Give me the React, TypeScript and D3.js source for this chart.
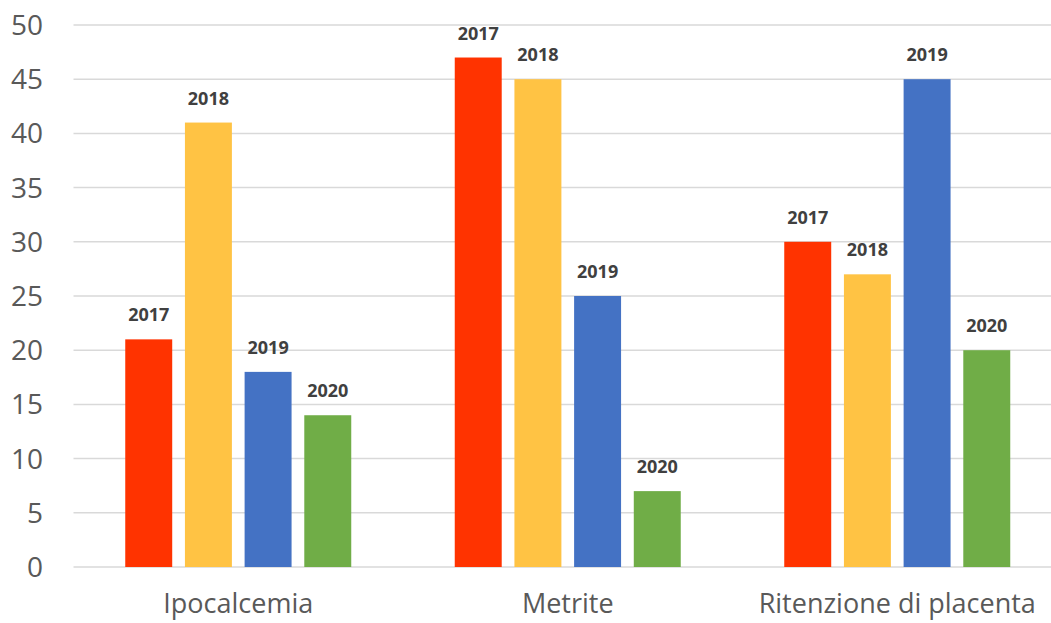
import React, { useEffect, useRef } from 'react';
import * as d3 from 'd3';

const categories = ['Ipocalcemia', 'Metrite', 'Ritenzione di placenta'];
const years = ['2017', '2018', '2019', '2020'];
const v2017 = [21, 47, 30];
const v2018 = [41, 45, 27];
const v2019 = [18, 25, 45];
const v2020 = [14, 7, 20];
const yTicks = [0, 5, 10, 15, 20, 25, 30, 35, 40, 45, 50];
const colors = ['#FF3300', '#FFC344', '#4472C4', '#70AD47'];

export default function App() {
  const ref = useRef<SVGSVGElement>(null);

  useEffect(() => {
    const W = 1051;
    const left = 73.5, right = 1062, top = 25, bottom = 567;
    const series = [v2017, v2018, v2019, v2020];

    const svg = d3.select(ref.current);
    svg.selectAll('*').remove();

    const x0 = d3.scaleBand().domain(categories).range([left, right]).padding(0);
    const groupW = 226;
    const x1 = d3.scaleBand().domain(years).range([0, groupW]).paddingInner(0.213).paddingOuter(0);
    const y = d3.scaleLinear().domain([0, 50]).range([bottom, top]);

    // gridlines
    svg.append('g').selectAll('line').data(yTicks).join('line')
      .attr('x1', left).attr('x2', W)
      .attr('y1', d => y(d)).attr('y2', d => y(d))
      .attr('stroke', '#d9d9d9').attr('stroke-width', 1.5);

    // y tick labels
    svg.append('g').selectAll('text').data(yTicks).join('text')
      .attr('x', 43).attr('y', d => y(d)).attr('dy', '0.36em')
      .attr('text-anchor', 'end')
      .attr('font-family', '"Open Sans", sans-serif').attr('font-size', 28)
      .attr('fill', '#595959')
      .text(d => d);

    const groups = svg.append('g').selectAll('g').data(categories).join('g')
      .attr('transform', c => `translate(${(x0(c) as number) + (x0.bandwidth() - groupW) / 2},0)`);

    groups.each(function (c, ci) {
      const g = d3.select(this);
      const rows = years.map((yr, si) => ({ yr, v: series[si][ci], color: colors[si] }));
      g.selectAll('rect').data(rows).join('rect')
        .attr('x', d => x1(d.yr) as number)
        .attr('y', d => y(d.v))
        .attr('width', x1.bandwidth())
        .attr('height', d => bottom - y(d.v))
        .attr('fill', d => d.color);
      g.selectAll('text').data(rows).join('text')
        .attr('x', d => (x1(d.yr) as number) + x1.bandwidth() / 2)
        .attr('y', d => y(d.v) - 18)
        .attr('text-anchor', 'middle')
        .attr('font-family', '"Open Sans", sans-serif').attr('font-size', 18)
        .attr('font-weight', 'bold')
        .attr('fill', '#404040')
        .text(d => d.yr);
    });

    // category labels
    svg.append('g').selectAll('text').data(categories).join('text')
      .attr('x', c => (x0(c) as number) + x0.bandwidth() / 2)
      .attr('y', 613)
      .attr('text-anchor', 'middle')
      .attr('font-family', '"Open Sans", sans-serif').attr('font-size', 27)
      .attr('fill', '#595959')
      .text(c => c);
  }, []);

  return (
    <svg ref={ref} width={1051} height={623} style={{ position: 'absolute', left: 0, top: 0 }} />
  );
}
